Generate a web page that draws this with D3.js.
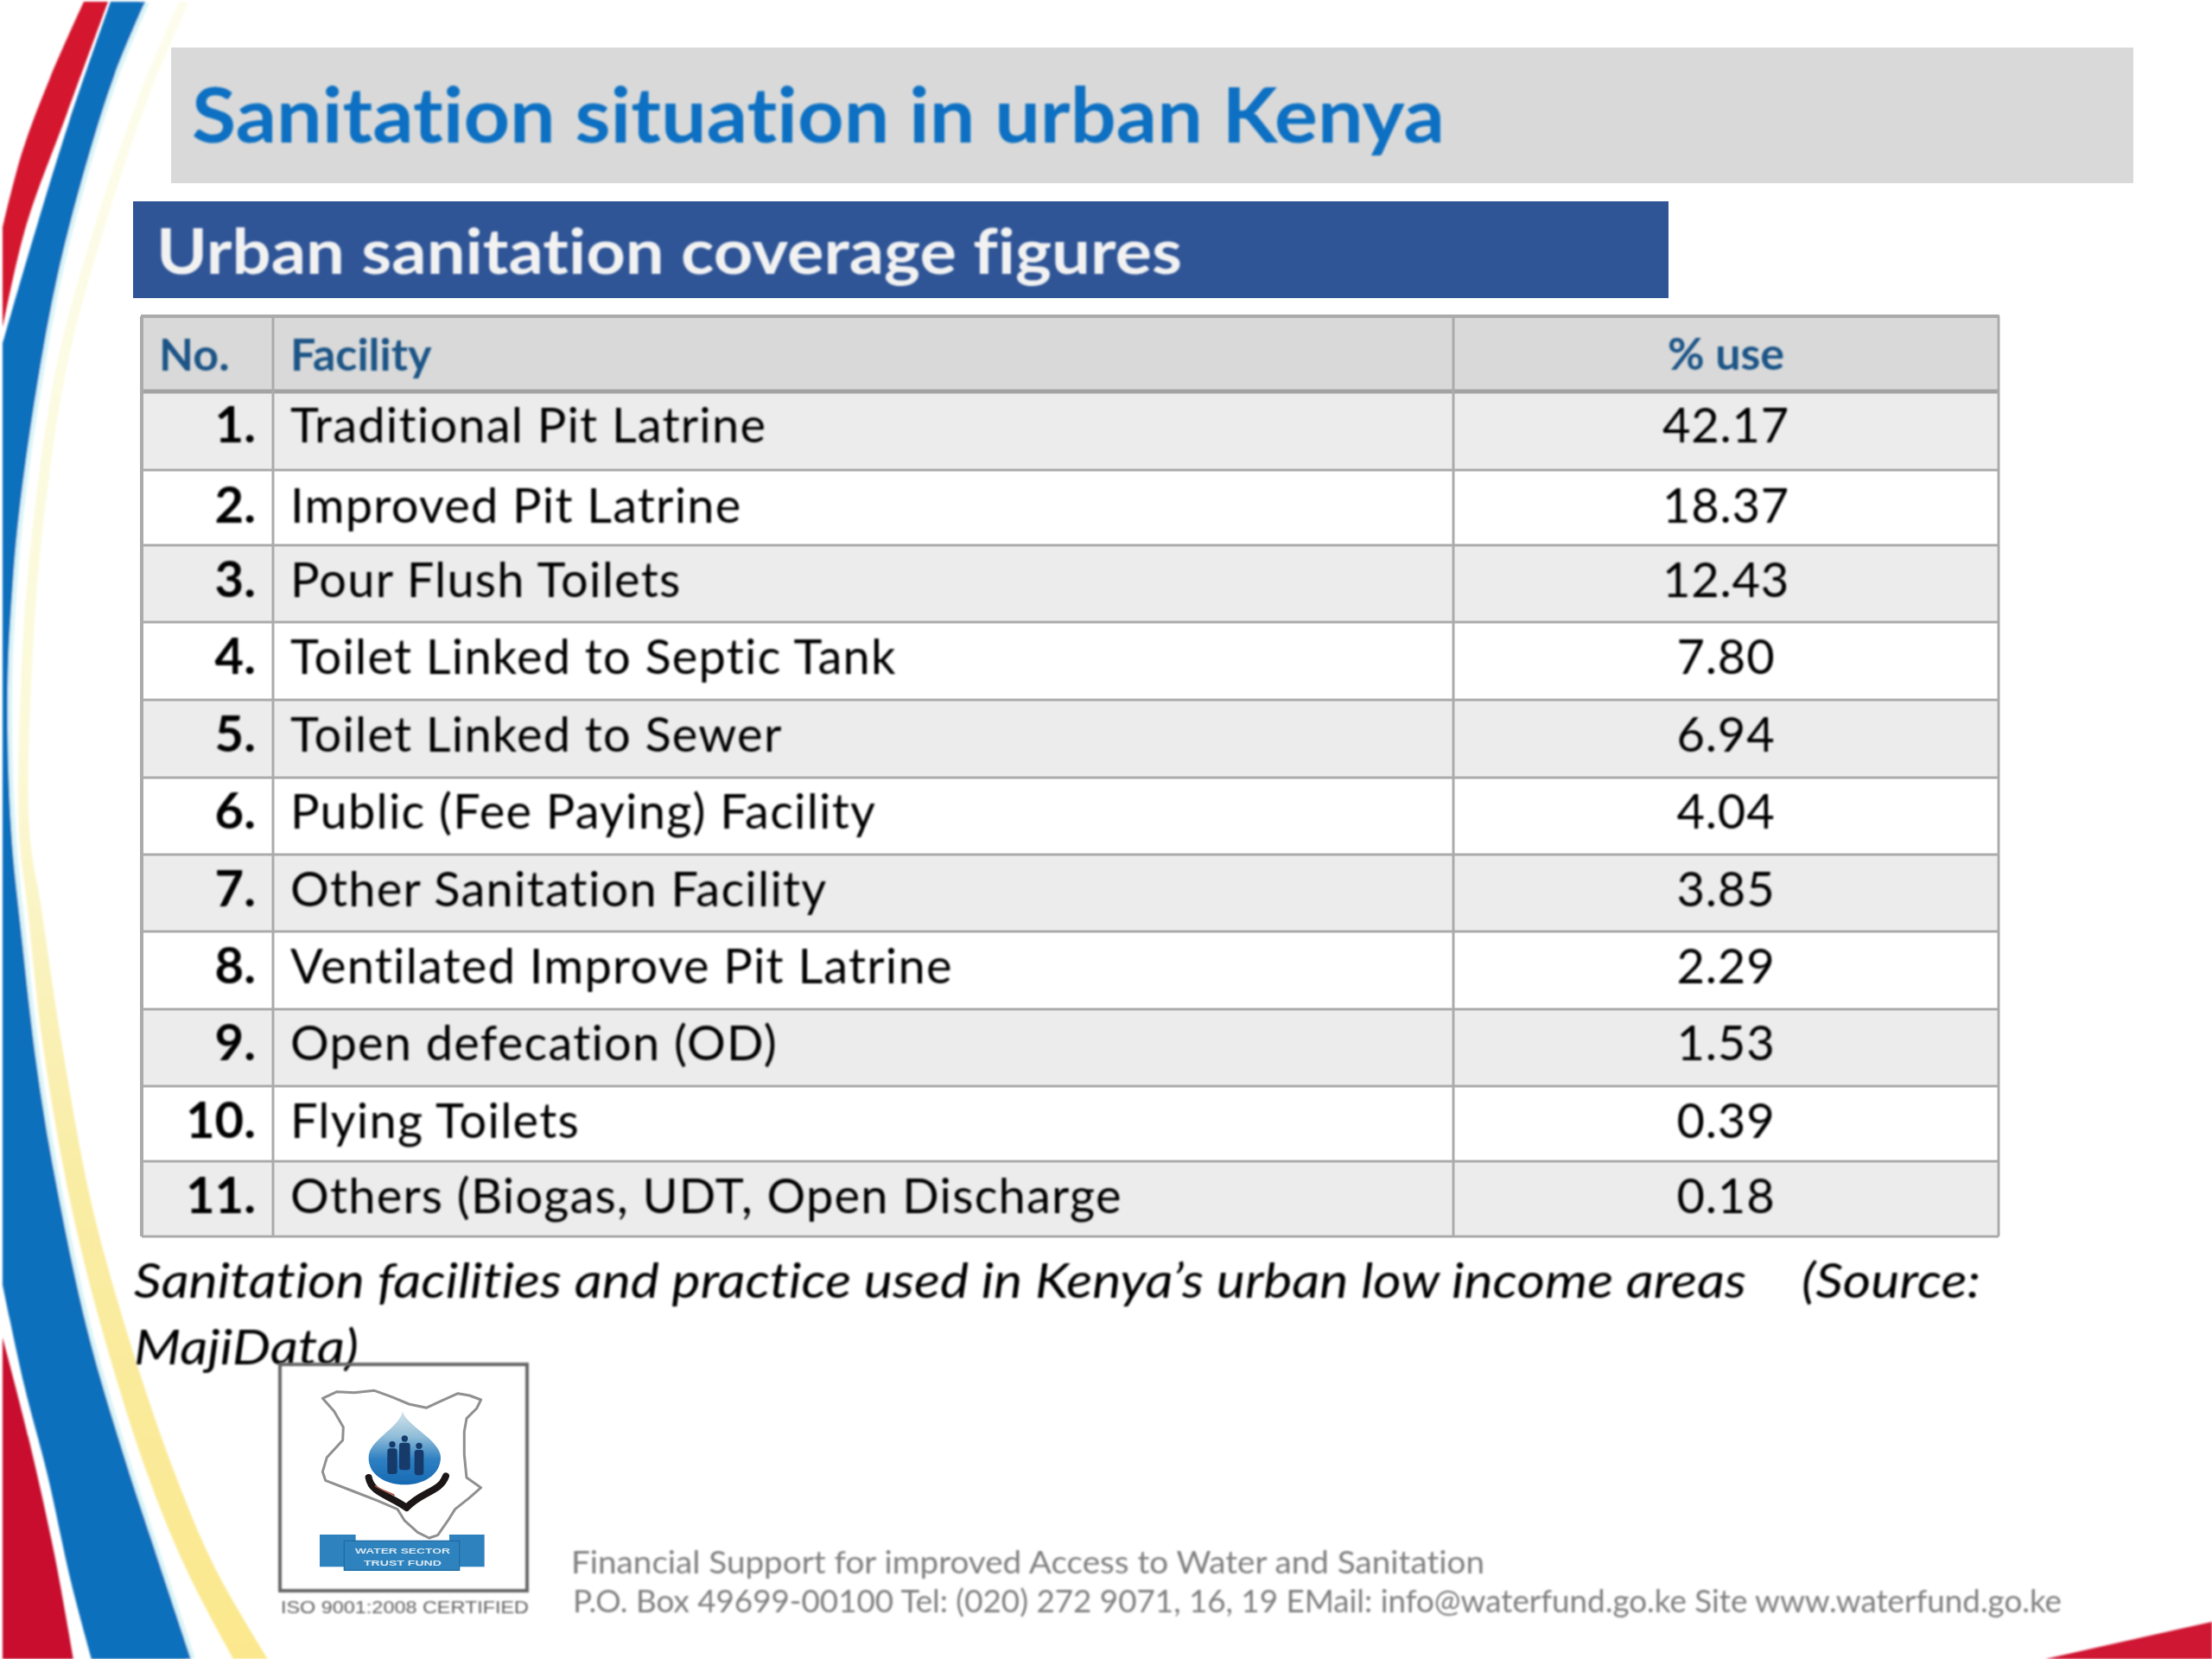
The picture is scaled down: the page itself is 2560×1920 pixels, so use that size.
<!DOCTYPE html>
<html><head><meta charset="utf-8">
<script src="https://cdn.jsdelivr.net/npm/d3@7/dist/d3.min.js"></script>
<style>html,body{margin:0;padding:0;background:#fff}svg{display:block}text{font-variant-ligatures:none}</style>
</head><body><div id="c"></div>
<script>
const titleText = "Sanitation situation in urban Kenya";
const subtitleText = "Urban sanitation coverage figures";
const headers = ["No.", "Facility", "% use"];
const rowNumbers = [1,2,3,4,5,6,7,8,9,10,11];
const facilities = ["Traditional Pit Latrine","Improved Pit Latrine","Pour Flush Toilets","Toilet Linked to Septic Tank","Toilet Linked to Sewer","Public (Fee Paying) Facility","Other Sanitation Facility","Ventilated Improve Pit Latrine","Open defecation (OD)","Flying Toilets","Others (Biogas, UDT, Open Discharge"];
const percentUse = [42.17,18.37,12.43,7.80,6.94,4.04,3.85,2.29,1.53,0.39,0.18];
const captionLine1 = "Sanitation facilities and practice used in Kenya\u2019s urban low income areas";
const captionSource = "(Source:";
const captionLine2 = "MajiData)";
const footerLine1 = "Financial Support for improved Access to Water and Sanitation";
const footerLine2 = "P.O. Box 49699-00100 Tel: (020) 272 9071, 16, 19 EMail: info@waterfund.go.ke Site www.waterfund.go.ke";
const isoText = "ISO 9001:2008 CERTIFIED";

const W = 2560, H = 1920;
const svg = d3.select("#c").append("svg").attr("width",W).attr("height",H).attr("viewBox",`0 0 ${W} ${H}`);
const defs = svg.append("defs");
const soft = defs.append("filter").attr("id","soft").attr("x","-5%").attr("y","-5%").attr("width","110%").attr("height","110%");
soft.append("feGaussianBlur").attr("stdDeviation",0.9);

const yGrad = defs.append("linearGradient").attr("id","yellow").attr("gradientUnits","userSpaceOnUse").attr("x1",0).attr("y1",0).attr("x2",0).attr("y2",H);
[[0,"#fdfdee"],[0.45,"#fbf9d8"],[0.7,"#f9eda6"],[1,"#fbe88e"]].forEach(s=>yGrad.append("stop").attr("offset",s[0]).attr("stop-color",s[1]));
const dropGrad = defs.append("linearGradient").attr("id","drop").attr("x1",0).attr("y1",0).attr("x2",0).attr("y2",1);
[[0,"#d5e4ec"],[0.35,"#8fbcd8"],[0.65,"#2f80c2"],[1,"#1669b2"]].forEach(s=>dropGrad.append("stop").attr("offset",s[0]).attr("stop-color",s[1]));

const curve = d3.line().curve(d3.curveCatmullRom.alpha(0.5));
const cont = pts => curve(pts).replace(/^M/,"L");

// decorative swoosh
const deco = svg.append("g").attr("filter","url(#soft)");
const blueRight = [[168,2],[133,86],[100,190],[67,318],[43,447],[23,588],[15,674],[9,796],[13,960],[25,1082],[43,1236],[63,1358],[102,1542],[143,1683],[177,1787],[221,1920]];
const blueTopLeft = [[3,398],[33,294],[80,141],[128,2]];
const blueBottomLeft = [[106,1920],[82,1830],[55,1707],[28,1603],[3,1487]];
const yellowBand = [[213,2,6],[167,110,6],[117,257,6],[73,416,6],[47,582,6],[33,735,6],[28,960,6],[40,1052,8],[60,1205,11],[93,1389,12],[133,1542,14],[187,1707,16],[233,1817,17],[290,1920,20]];
const yL = yellowBand.map(d=>[d[0]-d[2],d[1]]), yR = yellowBand.map(d=>[d[0]+d[2],d[1]]).reverse();
deco.append("path").attr("d",curve(yL)+cont(yR)+"Z").attr("fill","url(#yellow)");
deco.append("path").attr("d",curve(blueRight)).attr("fill","none").attr("stroke","#d9f4f8").attr("stroke-width",10);
deco.append("path").attr("d",curve(blueRight)+cont(blueBottomLeft)+cont(blueTopLeft)+"Z").attr("fill","#0b70bd");
deco.append("path").attr("d",curve([[97,2],[58,90],[26,175],[3,263]])+"L3,380"+cont([[3,380],[30,262],[78,130],[125,2]])+"Z").attr("fill","#d4122f");
deco.append("path").attr("d",curve([[3,1548],[33,1664],[63,1799],[85,1920]])+"L3,1920Z").attr("fill","#c8112e");
deco.append("path").attr("d","M2367,1920L2560,1877L2560,1920Z").attr("fill","#cf1230");

function txt(parent,x,y,s,o){
  const t = parent.append("text").attr("x",x).attr("y",y).text(s)
    .attr("font-family",o.family||"Lato, Carlito, sans-serif").attr("font-size",o.size)
    .attr("font-weight",o.weight||400).attr("font-style",o.style||"normal")
    .attr("fill",o.fill||"#000").attr("text-anchor",o.anchor||"start");
  if(o.len){t.attr("textLength",o.len).attr("lengthAdjust","spacingAndGlyphs");}
  return t;
}

// title bars
svg.append("rect").attr("x",198).attr("y",55).attr("width",2271).attr("height",157).attr("fill","#d9d9d9");
svg.append("rect").attr("x",154).attr("y",233).attr("width",1777).attr("height",112).attr("fill","#2f5597");

// table
const rowEdges = [453,544,631,720,810,900,989,1078,1168,1257,1344,1431];
const baselines = [512,605,691,780,870,959,1049,1138,1227,1317,1404];
const tableTop = 366, tableRight = 2313;
const colX = d3.scaleOrdinal().domain(["no","facility","use"]).range([164,316,1682]);
const rowTop = d3.scaleOrdinal().domain(rowNumbers).range(rowEdges.slice(0,-1));
const rowBottom = d3.scaleOrdinal().domain(rowNumbers).range(rowEdges.slice(1));
const rowBase = d3.scaleOrdinal().domain(rowNumbers).range(baselines);
const useCenter = (colX("use")+tableRight)/2;
const fmt = d3.format(".2f");

const table = svg.append("g");
table.append("rect").attr("x",colX("no")).attr("y",tableTop).attr("width",tableRight-colX("no")).attr("height",rowEdges[0]-tableTop).attr("fill","#d9d9d9");
table.selectAll("rect.band").data(rowNumbers).join("rect").attr("class","band")
  .attr("x",colX("no")).attr("width",tableRight-colX("no"))
  .attr("y",d=>rowTop(d)).attr("height",d=>rowBottom(d)-rowTop(d))
  .attr("fill",d=>d%2?"#ececec":"#ffffff");
const lines = table.append("g").attr("stroke","#ababab");
lines.selectAll("line.h").data(rowEdges).join("line").attr("class","h")
  .attr("x1",colX("no")).attr("x2",tableRight).attr("y1",d=>d).attr("y2",d=>d)
  .attr("stroke-width",(d,i)=>i===0?5:3).attr("stroke",(d,i)=>i===0?"#a3a3a3":"#ababab");
lines.append("line").attr("x1",colX("no")-1).attr("x2",tableRight+1).attr("y1",tableTop).attr("y2",tableTop).attr("stroke-width",4);
lines.selectAll("line.v").data([colX("no"),colX("facility"),colX("use"),tableRight]).join("line").attr("class","v")
  .attr("x1",d=>d).attr("x2",d=>d).attr("y1",tableTop).attr("y2",rowEdges[rowEdges.length-1]).attr("stroke-width",(d,i)=>i===0?4:3);

const content = svg.append("g").attr("filter","url(#soft)");
txt(content,222,165,titleText,{size:88,weight:700,fill:"#0870c2",len:1450});
txt(content,181,317,subtitleText,{size:73,weight:700,fill:"#f2f2f2",len:1187});

const hdr = {size:52,weight:700,fill:"#1f5486"};
txt(content,184,429,headers[0],hdr);
txt(content,336,429,headers[1],hdr);
txt(content,useCenter,428,headers[2],{...hdr,anchor:"middle"});

const rows = content.append("g").attr("font-family","Lato, sans-serif");
rows.selectAll("text.n").data(rowNumbers).join("text").attr("class","n")
  .attr("x",296).attr("y",d=>rowBase(d)).attr("text-anchor","end").attr("font-size",58).attr("font-weight",700).text(d=>d+".");
rows.selectAll("text.f").data(facilities).join("text").attr("class","f")
  .attr("x",336).attr("y",(d,i)=>rowBase(rowNumbers[i])).attr("font-size",56).attr("letter-spacing",1.2).text(d=>d);
rows.selectAll("text.u").data(percentUse).join("text").attr("class","u")
  .attr("x",useCenter).attr("y",(d,i)=>rowBase(rowNumbers[i])).attr("text-anchor","middle").attr("font-size",56).attr("letter-spacing",0.8).text(d=>fmt(d));

// caption
const cap = {size:56,style:"italic"};
txt(content,155,1502,captionLine1,{...cap,len:1866});
txt(content,2085,1502,captionSource,{...cap,len:207});
txt(content,155,1579,captionLine2,{...cap,len:260});

// logo
const logoBox = svg.append("g").attr("filter","url(#soft)");
logoBox.append("rect").attr("x",324).attr("y",1579).attr("width",286).attr("height",262).attr("fill","none").attr("stroke","#666").attr("stroke-width",4);
const logo = svg.append("g").attr("transform","translate(310,1570) scale(0.3333)").attr("filter","url(#soft)");
const mapOutline = [[190,145],[240,122],[300,125],[370,118],[430,140],[490,165],[550,178],[600,155],[660,128],[700,135],[740,150],[725,180],[690,215],[682,260],[682,340],[690,420],[740,455],[700,490],[650,530],[625,570],[590,620],[560,630],[520,610],[475,570],[450,530],[380,500],[290,465],[200,430],[190,400],[205,350],[260,290],[262,245],[230,190]];
logo.append("path").attr("d",d3.line()(mapOutline)+"Z").attr("fill","#fff").attr("stroke","#909090").attr("stroke-width",9).attr("stroke-linejoin","round");
logo.append("path").attr("d","M468,190C480,240 600,290 600,350C600,410 540,445 475,445C410,445 348,410 350,350C350,290 455,250 468,190Z").attr("fill","url(#drop)");
const people = [[432,305,34],[475,285,38],[525,310,32]];
const pg = logo.append("g").attr("fill","#123a6b");
pg.selectAll("circle").data(people).join("circle").attr("cx",d=>d[0]).attr("cy",d=>d[1]).attr("r",11);
pg.selectAll("rect").data(people).join("rect").attr("x",d=>d[0]-d[2]/2).attr("y",d=>d[1]+14).attr("width",d=>d[2]).attr("height",d=>95-(d[1]-285)*0.3).attr("rx",10);
logo.append("path").attr("d","M350,420C360,475 420,480 482,525M618,415C600,470 530,470 482,525").attr("fill","none").attr("stroke","#1b1412").attr("stroke-width",24).attr("stroke-linecap","round");
logo.append("path").attr("d","M372,448C395,465 420,470 440,482").attr("fill","none").attr("stroke","#a9503f").attr("stroke-width",5);
const bn = logo.append("g").attr("fill","#2f82bd");
bn.append("rect").attr("x",180).attr("y",618).attr("width",125).attr("height",112);
bn.append("rect").attr("x",630).attr("y",618).attr("width",122).attr("height",112);
bn.append("rect").attr("x",265).attr("y",640).attr("width",400).attr("height",102).attr("stroke","#1f6da6").attr("stroke-width",4);
txt(logo,468,684,"WATER SECTOR",{family:"Liberation Sans, sans-serif",size:28,weight:700,fill:"#d8e8f2",anchor:"middle",len:330});
txt(logo,468,726,"TRUST FUND",{family:"Liberation Sans, sans-serif",size:26,weight:700,fill:"#d8e8f2",anchor:"middle",len:270});

// footer
const foot = svg.append("g").attr("filter","url(#soft)");
txt(foot,325,1867,isoText,{family:"Liberation Sans, sans-serif",size:21,fill:"#5f5f5f",len:287});
txt(foot,661,1821,footerLine1,{size:36,fill:"#7f7f7f",len:1057});
txt(foot,663,1866,footerLine2,{size:36,fill:"#7f7f7f",len:1723});
</script></body></html>
